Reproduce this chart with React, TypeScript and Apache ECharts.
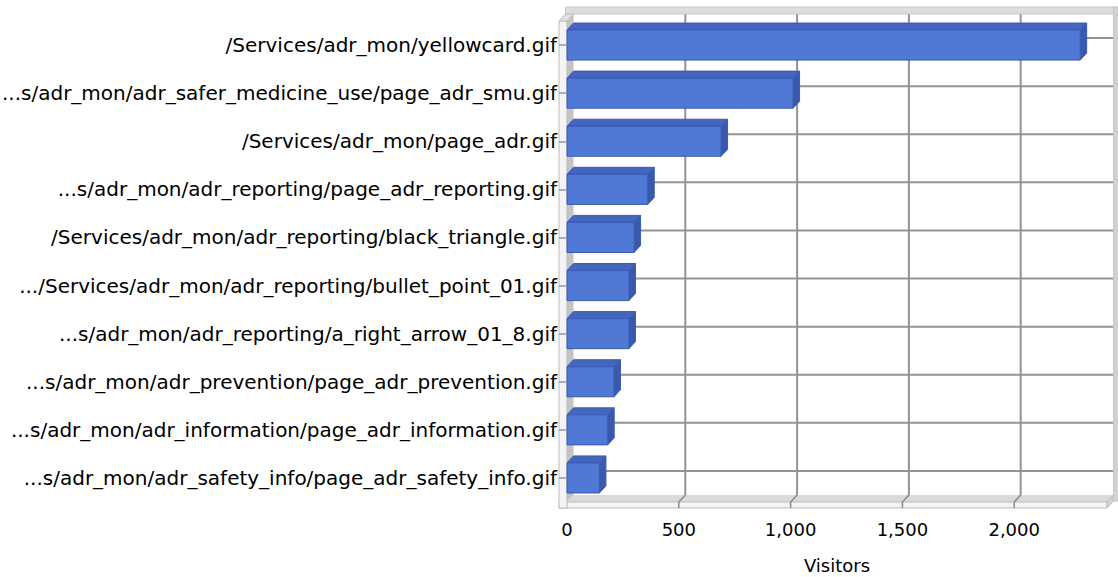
import React, { useEffect, useRef } from "react";
import * as echarts from "echarts";

const categories: string[] = [
  "/Services/adr_mon/yellowcard.gif",
  "...s/adr_mon/adr_safer_medicine_use/page_adr_smu.gif",
  "/Services/adr_mon/page_adr.gif",
  "...s/adr_mon/adr_reporting/page_adr_reporting.gif",
  "/Services/adr_mon/adr_reporting/black_triangle.gif",
  ".../Services/adr_mon/adr_reporting/bullet_point_01.gif",
  "...s/adr_mon/adr_reporting/a_right_arrow_01_8.gif",
  "...s/adr_mon/adr_prevention/page_adr_prevention.gif",
  "...s/adr_mon/adr_information/page_adr_information.gif",
  "...s/adr_mon/adr_safety_info/page_adr_safety_info.gif",
];
const visitors: number[] = [2295, 1011, 689, 361, 300, 277, 277, 210, 182, 145];
const xTicks: number[] = [0, 500, 1000, 1500, 2000];
const xMax = 2415;
const axisName = "Visitors";

const DX = 6.5;
const DY = -7;
const FONT = "'DejaVu Sans', sans-serif";

export default function App() {
  const ref = useRef<HTMLDivElement>(null);

  useEffect(() => {
    if (!ref.current) return;
    const chart = echarts.init(ref.current, undefined, { renderer: "svg" });

    const frameRender = (params: any, api: any) => {
      const cs = params.coordSys;
      const fx = cs.x, fy = cs.y, fr = cs.x + cs.width, fb = cs.y + cs.height;
      const bx = fx + DX, by = fy + DY, br = fr + DX, bb = fb + DY;
      const grid = { stroke: "#939393", lineWidth: 2 };
      const children: any[] = [];
      children.push({ type: "rect", shape: { x: bx, y: by, width: br - bx, height: bb - by }, style: { fill: "#ffffff" } });
      children.push({ type: "polygon", shape: { points: [[fx, fy], [bx, by], [bx, bb], [fx, fb]] }, style: { fill: "#c4c4c4" } });
      children.push({ type: "polygon", shape: { points: [[fx, fb], [bx, bb], [br, bb], [fr, fb]] }, style: { fill: "#dadada" } });
      categories.forEach((_, i) => {
        const y = api.coord([0, i])[1] + DY;
        children.push({ type: "line", shape: { x1: bx, y1: y, x2: br, y2: y }, style: grid });
      });
      xTicks.forEach((v) => {
        if (v === 0) return;
        const x = api.coord([v, 0])[0];
        children.push({ type: "line", shape: { x1: x + DX, y1: by, x2: x + DX, y2: bb }, style: grid });
      });
      // slabs
      children.push({ type: "rect", shape: { x: fx - 8, y: fb, width: fr - fx + 8, height: 6 }, style: { fill: "#f4f4f4", stroke: "#bcbcbc", lineWidth: 1 } });
      children.push({ type: "polygon", shape: { points: [[fr, fb], [br, bb], [br, bb + 6], [fr, fb + 6]] }, style: { fill: "#d2d2d2", stroke: "#bcbcbc", lineWidth: 1 } });
      children.push({ type: "rect", shape: { x: fx - 8, y: fy, width: 8, height: fb - fy + 6 }, style: { fill: "#f4f4f4", stroke: "#bcbcbc", lineWidth: 1 } });
      children.push({ type: "polygon", shape: { points: [[fx - 8, fy], [bx - 8, by], [bx, by], [fx, fy]] }, style: { fill: "#e2e2e2", stroke: "#bcbcbc", lineWidth: 1 } });
      children.push({ type: "rect", shape: { x: bx - 8, y: by - 7, width: br + 5 - (bx - 8), height: 7 }, style: { fill: "#dddddd", stroke: "#c6c6c6", lineWidth: 1 } });
      children.push({ type: "rect", shape: { x: br, y: by - 7, width: 5, height: bb - by + 13 }, style: { fill: "#d2d2d2", stroke: "#c6c6c6", lineWidth: 1 } });
      xTicks.forEach((v) => {
        if (v === 0) return;
        const x = api.coord([v, 0])[0];
        children.push({ type: "polyline", shape: { points: [[x + DX, bb], [x, fb], [x, fb + 6]] }, style: { stroke: "#8a8a8a", lineWidth: 1.5, fill: "none" } });
      });
      return { type: "group", children };
    };

    const barRender = (params: any, api: any) => {
      const v = api.value(0);
      const i = api.value(1);
      const p0 = api.coord([0, i]);
      const p1 = api.coord([v, i]);
      const h = api.size([0, 1])[1] * 0.625;
      const x0 = p0[0], x1 = p1[0];
      const yt = p0[1] - h / 2, yb = p0[1] + h / 2;
      const stroke = "#3a5bb0";
      return {
        type: "group",
        children: [
          { type: "polygon", shape: { points: [[x0, yt], [x0 + DX, yt + DY], [x1 + DX, yt + DY], [x1, yt]] }, style: { fill: "#4466c2", stroke, lineWidth: 1 } },
          { type: "polygon", shape: { points: [[x1, yt], [x1 + DX, yt + DY], [x1 + DX, yb + DY], [x1, yb]] }, style: { fill: "#3a59ad", stroke, lineWidth: 1 } },
          { type: "rect", shape: { x: x0, y: yt, width: x1 - x0, height: yb - yt }, style: { fill: "#5079d5", stroke, lineWidth: 1 } },
        ],
      };
    };

    chart.setOption({
      animation: false,
      grid: { left: 567, top: 21, width: 540, height: 481, containLabel: false, outerBoundsMode: "none" },
      xAxis: {
        type: "value",
        min: 0,
        max: xMax,
        interval: 500,
        axisLine: { show: false },
        axisTick: { show: false },
        splitLine: { show: false },
        axisLabel: {
          fontSize: 18,
          fontFamily: FONT,
          color: "#000",
          margin: 18,
          formatter: (val: number) => (xTicks.includes(val) ? val.toLocaleString("en-US") : ""),
        },
        name: axisName,
        nameLocation: "middle",
        nameGap: 54,
        nameTextStyle: { fontSize: 18, fontFamily: FONT, color: "#000" },
      },
      yAxis: {
        type: "category",
        data: categories,
        inverse: true,
        z: 5,
        axisLine: { show: false },
        axisTick: { show: true, alignWithLabel: true, length: 8, lineStyle: { color: "#9a9a9a", width: 1.5 } },
        splitLine: { show: false },
        axisLabel: { fontSize: 20, fontFamily: FONT, color: "#000", margin: 10 },
      },
      series: [
        {
          type: "custom",
          z: 1,
          silent: true,
          clip: false,
          renderItem: frameRender,
          encode: { x: 0, y: 1 },
          data: [[0, 0]],
        },
        {
          type: "custom",
          z: 3,
          clip: false,
          renderItem: barRender,
          encode: { x: 0, y: 1 },
          data: visitors.map((v, i) => [v, i]),
        },
      ],
    });

    return () => chart.dispose();
  }, []);

  return (
    <div
      ref={ref}
      style={{ position: "fixed", left: 0, top: 0, width: 1118, height: 577, background: "#fff" }}
    />
  );
}
